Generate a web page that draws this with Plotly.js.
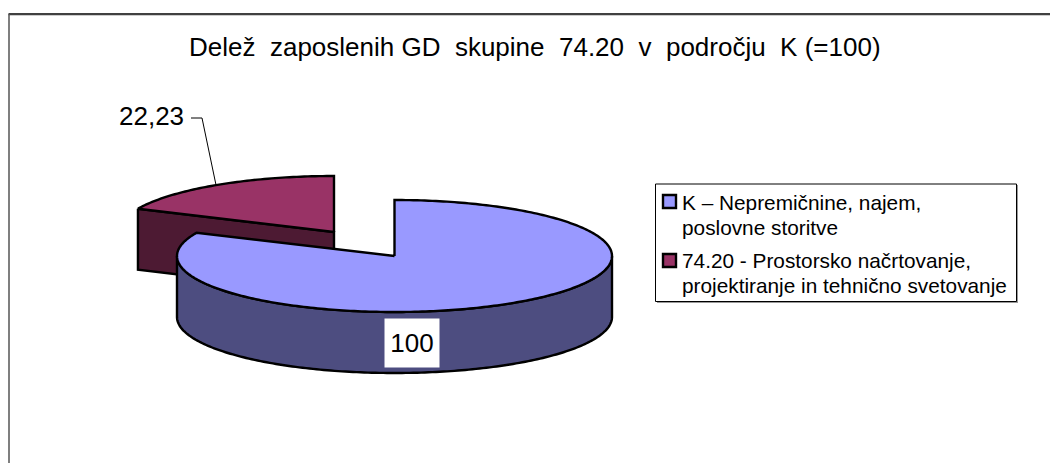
<!DOCTYPE html>
<html>
<head>
<meta charset="utf-8">
<script src="https://cdn.plot.ly/plotly-3.0.1.min.js"></script>
<style>html,body{margin:0;padding:0;background:#fff}#chart{width:1050px;height:463px}</style>
</head>
<body>
<div id="chart"></div>
<script>
const chartTitle = "Delež\u00A0\u00A0zaposlenih GD\u00A0\u00A0skupine\u00A0\u00A074.20\u00A0\u00A0v\u00A0\u00A0področju\u00A0\u00A0K (=100)";
const categories = ["K – Nepremičnine, najem,<br>poslovne storitve", "74.20 - Prostorsko načrtovanje,<br>projektiranje in tehnično svetovanje"];
const values = [100, 22.23];
const valueLabels = ["100", "22,23"];
const topColors = ["#9999FF", "#993366"];
const sideColors = ["#4D4D80", "#4D1A33"];

const FONT = "Liberation Sans, Arial, sans-serif";
const total = values[0] + values[1];
const sweep = values.map(v => 360 * v / total);
const RY = 56, DEPTH = 61;
const centers = [{x: 394.5, y: 256, rx: 217.5}, {x: 334, y: 232, rx: 215.5}];
const rad = d => d * Math.PI / 180;
const px = (c, a) => c.x + c.rx * Math.sin(rad(a));
const py = (c, a, dz) => c.y - RY * Math.cos(rad(a)) + (dz || 0);

function arcDeg(a0, a1) {
  const out = [], n = Math.max(2, Math.ceil(Math.abs(a1 - a0)));
  for (let i = 0; i <= n; i++) out.push(a0 + (a1 - a0) * i / n);
  return out;
}
function poly(xs, ys, fill, width) {
  return {type: "scatter", mode: "lines", x: xs, y: ys, fill: "toself", fillcolor: fill,
          line: {color: "#000", width: width || 2.4, simplify: false}, hoverinfo: "skip", showlegend: false};
}

// Blue slice runs clockwise from 12 o'clock; the red one closes the circle.
const blue = centers[0], red = centers[1];
const blueArc = arcDeg(0, sweep[0]);
const redArc = arcDeg(sweep[0], 360);
const blueFront = arcDeg(90, 270);

const traces = [];
// red cut side
const ra = sweep[0];
traces.push(poly([px(red, ra), red.x, red.x, px(red, ra), px(red, ra)],
                 [py(red, ra), red.y, red.y + DEPTH, py(red, ra, DEPTH), py(red, ra)], sideColors[1]));
// red top
traces.push(poly([red.x].concat(redArc.map(a => px(red, a)), [red.x]),
                 [red.y].concat(redArc.map(a => py(red, a)), [red.y]), topColors[1]));
// blue outer wall
traces.push(poly(blueFront.map(a => px(blue, a)).concat(blueFront.slice().reverse().map(a => px(blue, a)), [px(blue, 90)]),
                 blueFront.map(a => py(blue, a)).concat(blueFront.slice().reverse().map(a => py(blue, a, DEPTH)), [py(blue, 90)]), sideColors[0]));
// blue top
traces.push(poly([blue.x].concat(blueArc.map(a => px(blue, a)), [blue.x]),
                 [blue.y].concat(blueArc.map(a => py(blue, a)), [blue.y]), topColors[0]));
// leader line
traces.push({type: "scatter", mode: "lines", x: [191, 202, 216], y: [118, 118, 185],
             line: {color: "#000", width: 1}, hoverinfo: "skip", showlegend: false});
// legend swatches
const legendSwatchY = [201.5, 260.5];
traces.push({type: "scatter", mode: "markers", x: [669.5, 669.5], y: legendSwatchY,
             marker: {symbol: "square", size: 13, color: topColors, line: {color: "#000", width: 2.4}},
             hoverinfo: "skip", showlegend: false});

const legendLineY = [[202, 227], [260, 285]];
const legendAnnotations = [];
categories.forEach((c, i) => c.split("<br>").forEach((line, j) => legendAnnotations.push(
  {x: 680, y: legendLineY[i][j], xref: "x", yref: "y", text: line, showarrow: false, xanchor: "left", yanchor: "middle",
   font: {family: FONT, size: 20.8, color: "#000"}})));

const layout = {
  width: 1050, height: 463, margin: {l: 0, r: 0, t: 0, b: 0},
  paper_bgcolor: "#fff", plot_bgcolor: "#fff", showlegend: false,
  xaxis: {range: [0, 1050], visible: false, fixedrange: true},
  yaxis: {range: [463, 0], visible: false, fixedrange: true},
  shapes: [
    {type: "line", x0: 8.5, x1: 1060, y0: 15.5, y1: 15.5, line: {color: "#cccccc", width: 1}, layer: "below"},
    {type: "line", x0: 8.5, x1: 1060, y0: 14, y1: 14, line: {color: "#000", width: 1.5}, layer: "below"},
    {type: "line", x0: 9, x1: 9, y0: 14, y1: 470, line: {color: "#555", width: 1.5}, layer: "below"},
    {type: "rect", x0: 657, x1: 1018, y0: 185, y1: 303, fillcolor: "#999", line: {width: 0}, layer: "below"},
    {type: "rect", x0: 655.5, x1: 1016.5, y0: 184, y1: 301.5, fillcolor: "#fff", line: {color: "#000", width: 1}, layer: "below"}
  ],
  annotations: [
    {x: 534.5, y: 47, xref: "x", yref: "y", text: chartTitle, showarrow: false, xanchor: "center", yanchor: "middle",
     font: {family: FONT, size: 26, color: "#000"}},
    {x: 186, y: 116, xref: "x", yref: "y", text: valueLabels[1], showarrow: false, xanchor: "right", yanchor: "middle",
     font: {family: FONT, size: 26, color: "#000"}},
    {x: 411.5, y: 343, xref: "x", yref: "y", text: valueLabels[0], showarrow: false, xanchor: "center", yanchor: "middle",
     bgcolor: "#fff", width: 52, height: 46, font: {family: FONT, size: 26, color: "#000"}}
  ].concat(legendAnnotations)
};
Plotly.newPlot("chart", traces, layout, {displayModeBar: false, staticPlot: true});
</script>
</body>
</html>
